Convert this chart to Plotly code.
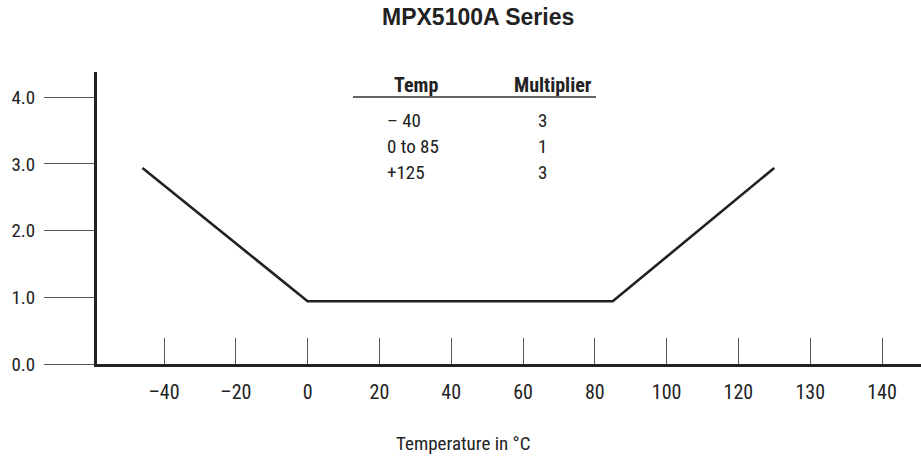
import numpy as np
import plotly.graph_objects as go

# ---- data ----
tick_temps = [-40, -20, 0, 20, 40, 60, 80, 100, 120, 130, 140]
tick_labels = ["\u201340", "\u201320", "0", "20", "40", "60", "80", "100", "120", "130", "140"]
y_ticks = [0, 1, 2, 3, 4]
y_labels = ["0.0", "1.0", "2.0", "3.0", "4.0"]

curve_temps = [-46, 0, 85, 125]
curve_mult = [2.94, 0.94, 0.94, 2.94]

table_header = ["Temp", "Multiplier"]
table_temps = ["\u2013 40", "0 to 85", "+125"]
table_mult = ["3", "1", "3"]

# ---- axis mapping (tick labels are equally spaced positions) ----
idx = np.arange(len(tick_temps), dtype=float)


def to_axis(t):
    t = np.asarray(t, dtype=float)
    out = np.interp(t, tick_temps, idx)
    lo = t < tick_temps[0]
    out[lo] = (t[lo] - tick_temps[0]) / (tick_temps[1] - tick_temps[0])
    hi = t > tick_temps[-1]
    out[hi] = idx[-1] + (t[hi] - tick_temps[-1]) / (tick_temps[-1] - tick_temps[-2])
    return out


FONT = "Liberation Sans Narrow, Arial Narrow, Roboto Condensed, Liberation Sans, sans-serif"
INK = "#222222"

fig = go.Figure()
fig.add_trace(go.Scatter(
    x=to_axis(curve_temps), y=curve_mult, mode="lines",
    line=dict(color=INK, width=2.6), showlegend=False, hoverinfo="skip"))

W, H = 921, 459
L, R, T = 97, 0, 72
B = H - 364
pw, ph = W - L - R, H - T - B
px_per_idx = 71.8
x0 = (97 - 164) / px_per_idx
x1 = x0 + pw / px_per_idx
px_per_y = 66.7
y1 = ph / px_per_y

fig.update_layout(
    width=W, height=H,
    margin=dict(l=L, r=R, t=T, b=B),
    paper_bgcolor="white", plot_bgcolor="white",
    font=dict(family=FONT, size=19, color=INK),
    xaxis=dict(
        range=[x0, x1], tickvals=list(idx), ticktext=tick_labels,
        showline=True, linecolor=INK, linewidth=2.6,
        ticks="inside", ticklen=26, tickwidth=1.3, tickcolor="#555555",
        showgrid=False, zeroline=False, ticklabelstandoff=8,
        tickfont=dict(family=FONT, size=20, color=INK),
    ),
    yaxis=dict(
        range=[0, y1], tickvals=y_ticks, ticktext=y_labels,
        showline=True, linecolor=INK, linewidth=3,
        ticks="outside", ticklen=50, tickwidth=1.3, tickcolor="#555555",
        showgrid=False, zeroline=False, ticklabelstandoff=5,
        tickfont=dict(family=FONT, size=19, color=INK),
    ),
)


def px_x(p):
    return (p - L) / pw


def px_y(p):
    return (H - B - p) / ph


ann = []
# title
ann.append(dict(text="<b>MPX5100A Series</b>", x=px_x(478), y=px_y(17),
                xref="paper", yref="paper", showarrow=False,
                xanchor="center", yanchor="middle",
                font=dict(family="Liberation Sans, Arial, sans-serif", size=23, color=INK)))
# x axis title
ann.append(dict(text="Temperature in \u00b0C", x=px_x(462.5), y=px_y(443),
                xref="paper", yref="paper", showarrow=False,
                xanchor="center", yanchor="middle",
                font=dict(family=FONT, size=19, color=INK)))
# table header
for txt, cx in zip(table_header, [416, 553]):
    ann.append(dict(text="<b>" + txt + "</b>", x=px_x(cx), y=px_y(85),
                    xref="paper", yref="paper", showarrow=False,
                    xanchor="center", yanchor="middle",
                    font=dict(family=FONT, size=20, color=INK)))
# table rows
for i, (tt, mm) in enumerate(zip(table_temps, table_mult)):
    yy = px_y(120 + i * 26)
    ann.append(dict(text=tt, x=px_x(385), y=yy, xref="paper", yref="paper",
                    showarrow=False, xanchor="left", yanchor="middle",
                    font=dict(family=FONT, size=19, color=INK)))
    ann.append(dict(text=mm, x=px_x(542), y=yy, xref="paper", yref="paper",
                    showarrow=False, xanchor="center", yanchor="middle",
                    font=dict(family=FONT, size=19, color=INK)))
fig.update_layout(annotations=ann)

fig.add_shape(type="line", xref="paper", yref="paper",
              x0=px_x(353), x1=px_x(596), y0=px_y(97), y1=px_y(97),
              line=dict(color="#666666", width=2))

fig.write_html("out.html", config={"displayModeBar": False},
               post_script="document.body.style.margin='0px';")
